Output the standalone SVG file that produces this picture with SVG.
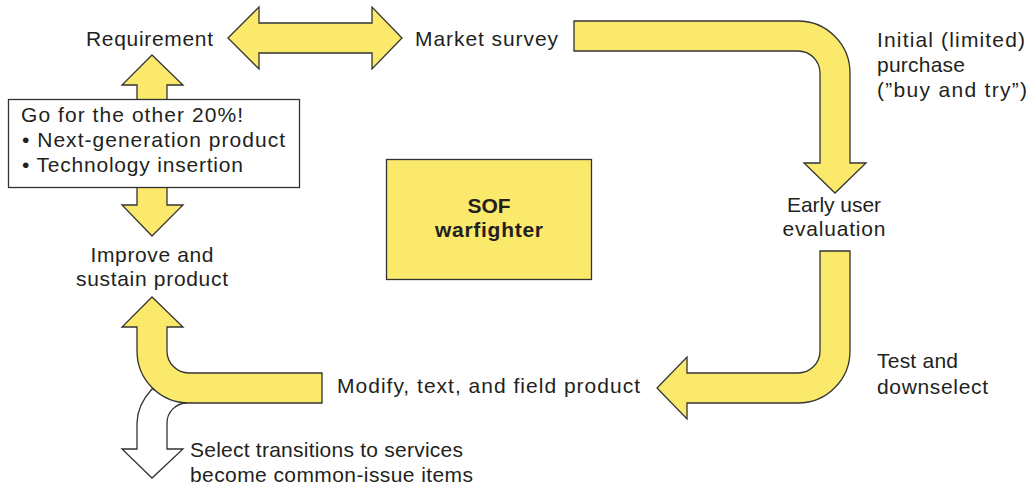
<svg xmlns="http://www.w3.org/2000/svg" width="1035" height="488" viewBox="0 0 1035 488">
<style>
.arrow{fill:#fbe96b;stroke:#333;stroke-width:1.3;stroke-linejoin:miter}
.white{fill:#fff;stroke:#333;stroke-width:1.3}
.t{font-family:"Liberation Sans",Arial,sans-serif;font-size:21px;fill:#231f20}
.b{font-weight:bold}
.m{text-anchor:middle}
</style>
<rect width="1035" height="488" fill="#fff"/>
<g id="connectors">
<path class="arrow" d="M228,38 L259,7 L259,23 L372,23 L372,7 L402,38 L372,69 L372,53 L259,53 L259,69 Z"/>
<path class="arrow" d="M574,21 L798,21 A52,52 0 0 1 850,73 L850,163 L866,163 L835,193 L804,163 L820,163 L820,73 A22,22 0 0 0 798,51 L574,51 Z"/>
<path class="arrow" d="M820,251 L850,251 L850,351 A52,52 0 0 1 798,403 L687,403 L687,419 L657,388 L687,357 L687,373 L798,373 A22,22 0 0 0 820,351 Z"/>
<path class="white" d="M152,389 C142,400 137,410 137,423 L137,449 L122,449 L152,478 L183,449 L167,449 L167,423 A20,20 0 0 1 187,403 Z"/>
<path class="arrow" d="M322,373 L189,373 A22,22 0 0 1 167,351 L167,327 L183,327 L152,297 L122,327 L137,327 L137,351 A52,52 0 0 0 189,403 L322,403 Z"/>
<path class="arrow" d="M152,55 L183,85 L167,85 L167,110 L137,110 L137,85 L122,85 Z"/>
<path class="arrow" d="M137,180 L167,180 L167,205 L183,205 L152,236 L122,205 L137,205 Z"/>
</g>
<g id="requirement"><text class="t m" x="149.5" y="46" textLength="127">Requirement</text></g>
<g id="market-survey"><text class="t" x="415" y="46" textLength="143">Market survey</text></g>
<g id="initial-purchase">
<text class="t" x="877" y="47" textLength="148">Initial (limited)</text>
<text class="t" x="877" y="72" textLength="88">purchase</text>
<text class="t" x="877" y="97" textLength="150">(”buy and try”)</text>
</g>
<g id="early-user"><text class="t m" x="834" y="212" textLength="94">Early user</text><text class="t m" x="834" y="236" textLength="103">evaluation</text></g>
<g id="test"><text class="t" x="877" y="368" textLength="81">Test and</text><text class="t" x="877" y="394" textLength="111">downselect</text></g>
<g id="modify"><text class="t" x="337" y="393" textLength="303">Modify, text, and field product</text></g>
<g id="select"><text class="t" x="190" y="457" textLength="273">Select transitions to services</text><text class="t" x="190" y="482" textLength="283">become common-issue items</text></g>
<g id="improve"><text class="t m" x="152" y="262" textLength="123">Improve and</text><text class="t m" x="152" y="286" textLength="152">sustain product</text></g>
<g id="go-box">
<rect x="8.5" y="99.5" width="291" height="88" fill="#fff" stroke="#333" stroke-width="1.3"/>
<text class="t" x="21" y="122" textLength="222">Go for the other 20%!</text>
<text class="t" x="22" y="147" textLength="263">• Next-generation product</text>
<text class="t" x="22" y="172" textLength="221">• Technology insertion</text>
</g>
<g id="sof">
<rect x="386.5" y="159.5" width="205" height="120" fill="#fbe96b" stroke="#333" stroke-width="1.3"/>
<text class="t b m" x="489" y="213">SOF</text>
<text class="t b m" x="489" y="237" textLength="108">warfighter</text>
</g>
</svg>
